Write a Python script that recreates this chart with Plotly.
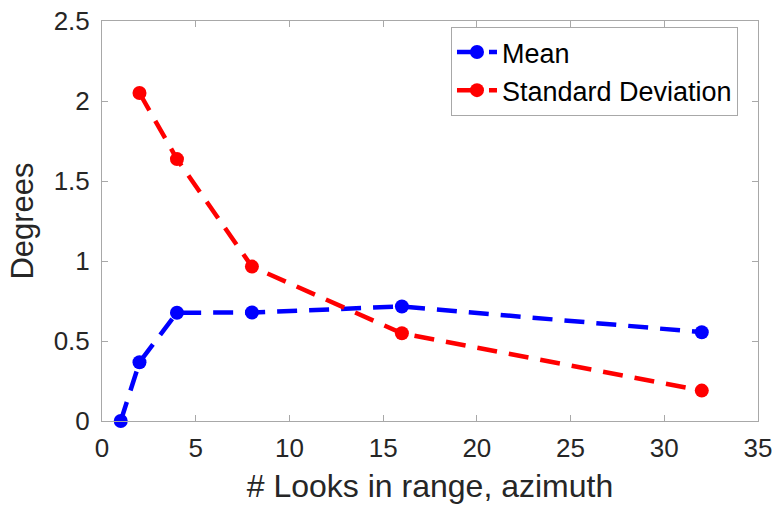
import plotly.graph_objects as go

mean_x = [1, 2, 4, 8, 16, 32]
mean_y = [0.0, 0.367, 0.677, 0.678, 0.716, 0.555]
std_x = [2, 4, 8, 16, 32]
std_y = [2.05, 1.637, 0.965, 0.548, 0.19]
x_ticks = [0, 5, 10, 15, 20, 25, 30, 35]
y_ticks = [0, 0.5, 1, 1.5, 2, 2.5]
y_tick_text = ["0", "0.5", "1", "1.5", "2", "2.5"]

fig = go.Figure()
fig.add_trace(go.Scatter(x=mean_x, y=mean_y, mode="lines+markers", name="Mean",
                         line=dict(color="#0000ff", width=4.5, dash="20px,12px"),
                         marker=dict(color="#0000ff", size=14), cliponaxis=False))
fig.add_trace(go.Scatter(x=std_x, y=std_y, mode="lines+markers", name="Standard Deviation",
                         line=dict(color="#ff0000", width=4.5, dash="20px,12px"),
                         marker=dict(color="#ff0000", size=14), cliponaxis=False))

axis_common = dict(showgrid=False, zeroline=False, showline=True, mirror="ticks",
                   linecolor="#a8a8a8", linewidth=1, ticks="inside", ticklen=6,
                   tickcolor="#a8a8a8", tickfont=dict(size=26, color="#262626"),
                   automargin=False)

fig.update_layout(
    width=778, height=506,
    margin=dict(l=102, r=20, t=21, b=85),
    paper_bgcolor="white", plot_bgcolor="white",
    font=dict(family="Liberation Sans, Arial, sans-serif", color="#262626"),
    xaxis=dict(range=[0, 35], tickvals=x_ticks, ticklabelstandoff=4,
               title=dict(text="# Looks in range, azimuth", font=dict(size=32), standoff=12), **axis_common),
    yaxis=dict(range=[0, 2.5], tickvals=y_ticks, ticktext=y_tick_text, ticklabelstandoff=6,
               title=dict(text="Degrees", font=dict(size=31), standoff=10), **axis_common),
    legend=dict(x=0.532, y=0.985, xanchor="left", yanchor="top", bgcolor="white",
                bordercolor="#a8a8a8", borderwidth=1, font=dict(size=27, color="black"),
                itemwidth=40, tracegroupgap=0),
    showlegend=True,
)

fig.write_html("out.html")
